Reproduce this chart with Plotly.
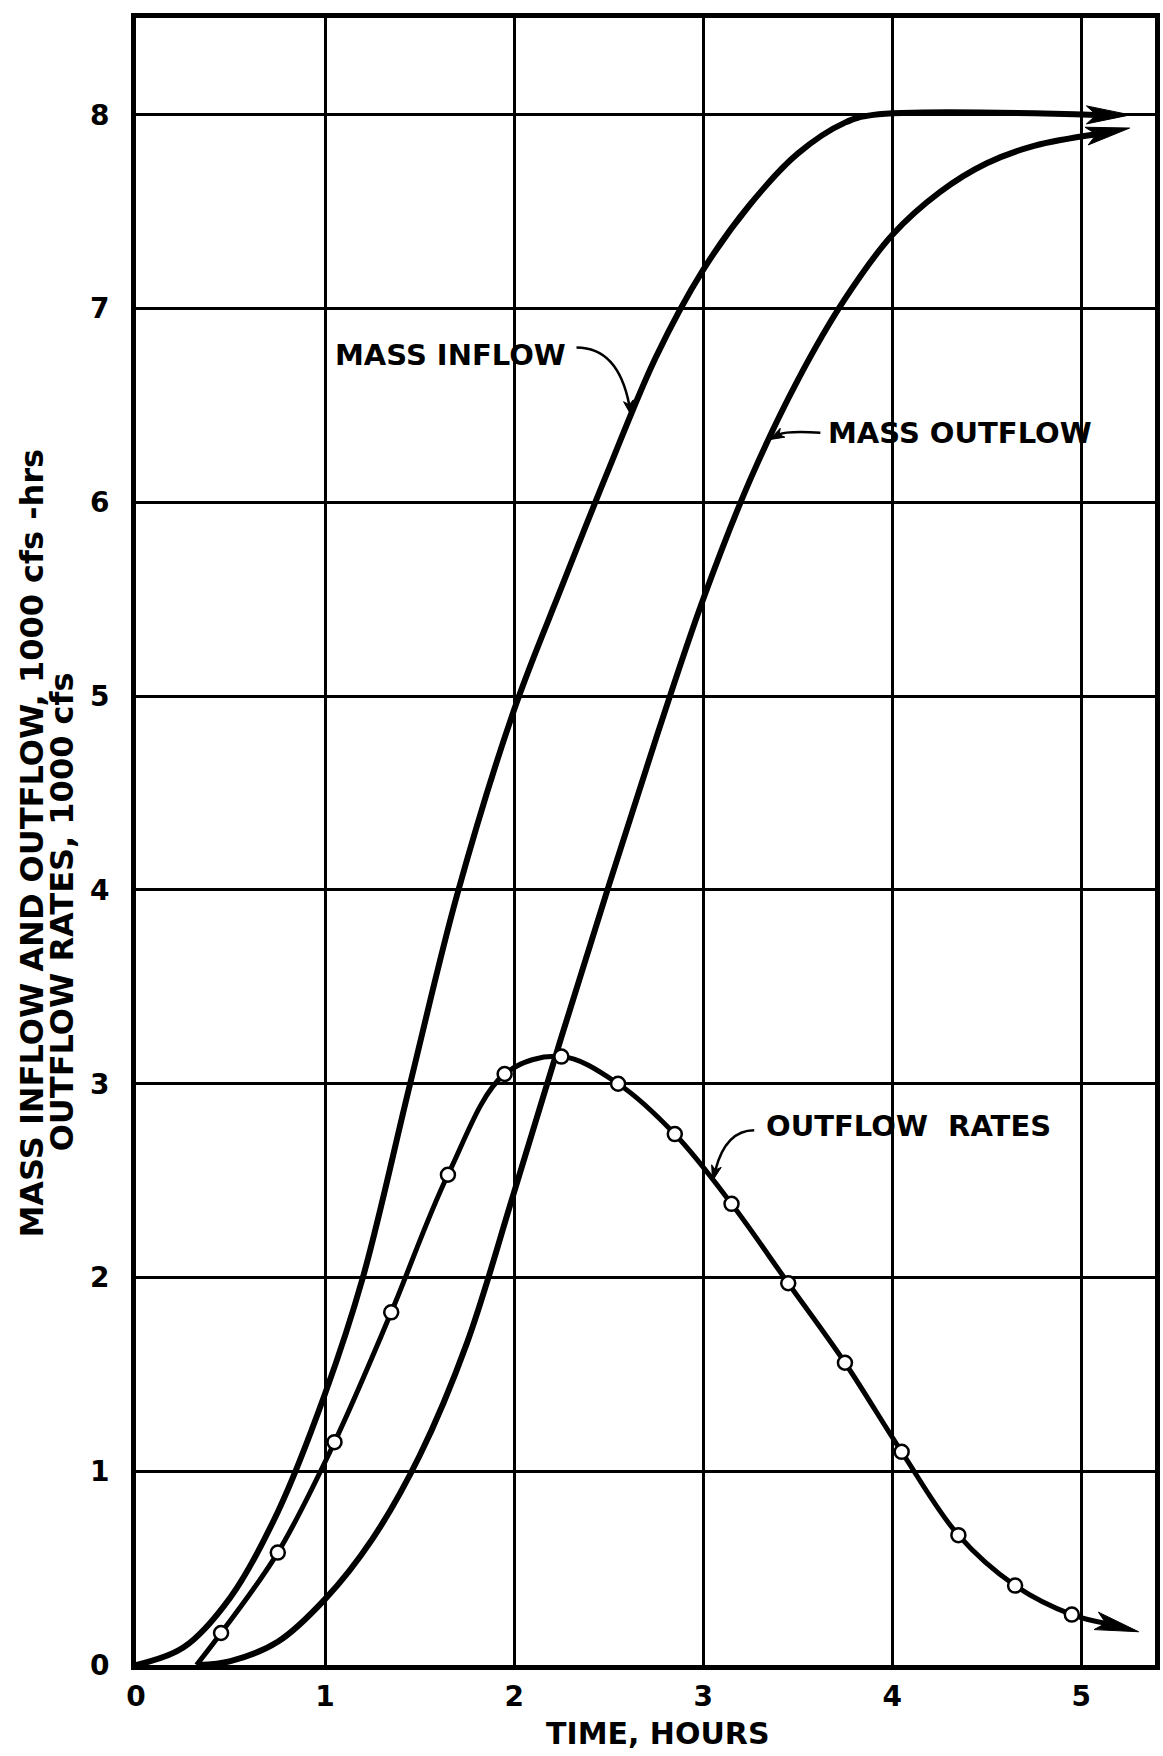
import numpy as np
import plotly.graph_objects as go

# ---- axes -------------------------------------------------------------
X_MAX = 5.39
Y_MAX = 8.5
x_ticks = [0, 1, 2, 3, 4, 5]
y_ticks = [0, 1, 2, 3, 4, 5, 6, 7, 8]

# ---- mass inflow, 1000 cfs-hrs -----------------------------------------
inflow_t = [0.0, 0.25, 0.5, 0.75, 1.0, 1.2, 1.45, 1.7, 2.0, 2.25, 2.5, 2.75, 3.0, 3.25,
            3.5, 3.75, 3.9, 5.08]
inflow_v = [0.0, 0.09, 0.35, 0.79, 1.4, 2.0, 3.0, 3.98, 4.93, 5.56, 6.17, 6.75, 7.2, 7.54,
            7.8, 7.96, 8.0, 8.0]

# ---- mass outflow, 1000 cfs-hrs ----------------------------------------
outflow_t = [0.33, 0.5, 0.75, 1.0, 1.25, 1.5, 1.75, 2.0, 2.25, 2.5, 2.75, 3.0, 3.25, 3.5,
             3.75, 4.0, 4.25, 4.5, 4.75, 5.08]
outflow_v = [0.0, 0.02, 0.12, 0.34, 0.65, 1.08, 1.66, 2.44, 3.24, 4.02, 4.78, 5.5, 6.12,
             6.63, 7.05, 7.38, 7.6, 7.75, 7.84, 7.9]

# ---- routed outflow rates, 1000 cfs ------------------------------------
rate_t = [0.45, 0.75, 1.05, 1.35, 1.65, 1.95, 2.25, 2.55, 2.85, 3.15, 3.45, 3.75, 4.05, 4.35, 4.65, 4.95]
rate_v = [0.165, 0.58, 1.15, 1.82, 2.53, 3.05, 3.14, 3.00, 2.74, 2.38, 1.97, 1.56, 1.1, 0.67, 0.41, 0.26]
rate_start_t, rate_start_v = 0.32, 0.0
rate_end_t, rate_end_v = 5.13, 0.215

# ---- figure geometry ---------------------------------------------------
W, H = 1163, 1756
ML, MR, MT, MB = 136, 3, 18, 91
PW, PH = W - ML - MR, H - MT - MB
XS = PW / X_MAX          # pixels per hour
YS = PH / Y_MAX          # pixels per 1000 units

FONT = "DejaVu Sans"
INK = "black"


def head_polygon(x0, y0, x1, y1, length, half, notch, tip_on_point=False):
    """Barbed arrowhead pointing from (x0, y0) towards (x1, y1).

    By default the notch sits on (x1, y1) so a line ending there disappears
    inside the head; with tip_on_point the point of the head is (x1, y1).
    """
    dx, dy = (x1 - x0) * XS, (y1 - y0) * YS
    n = np.hypot(dx, dy)
    ux, uy = dx / n, dy / n
    px, py = -uy, ux
    if tip_on_point:
        tx, ty = x1 * XS, y1 * YS
    else:
        tx, ty = x1 * XS + (length - notch) * ux, y1 * YS + (length - notch) * uy
    bx, by = tx - length * ux, ty - length * uy
    tip = (tx, ty)
    b1 = (bx + half * px, by + half * py)
    nt = (bx + notch * ux, by + notch * uy)
    b2 = (bx - half * px, by - half * py)
    pts = [tip, b1, nt, b2, tip]
    return [p[0] / XS for p in pts], [p[1] / YS for p in pts]


def head_trace(xs, ys):
    return go.Scatter(x=xs, y=ys, mode="lines", fill="toself", fillcolor=INK,
                      line=dict(color=INK, width=1), hoverinfo="skip", showlegend=False)


fig = go.Figure()

# mass curves
fig.add_trace(go.Scatter(x=inflow_t, y=inflow_v, mode="lines", name="Mass inflow",
                         line=dict(color=INK, width=6, shape="spline", smoothing=1.0)))
fig.add_trace(go.Scatter(x=outflow_t, y=outflow_v, mode="lines", name="Mass outflow",
                         line=dict(color=INK, width=6, shape="spline", smoothing=1.0)))

# outflow rate curve through the computed points
rate_line_t = [rate_start_t] + rate_t + [rate_end_t]
rate_line_v = [rate_start_v] + rate_v + [rate_end_v]
fig.add_trace(go.Scatter(x=rate_line_t, y=rate_line_v, mode="lines", name="Outflow rates",
                         line=dict(color=INK, width=5, shape="spline", smoothing=1.0)))
fig.add_trace(go.Scatter(x=rate_t, y=rate_v, mode="markers", name="Computed rates",
                         marker=dict(symbol="circle", size=14, color="white",
                                     line=dict(color=INK, width=2.5))))

# arrowheads at the ends of the curves
for tt, vv in ((inflow_t, inflow_v), (outflow_t, outflow_v), (rate_line_t, rate_line_v)):
    hx, hy = head_polygon(tt[-2], vv[-2], tt[-1], vv[-1], length=44, half=9, notch=10)
    fig.add_trace(head_trace(hx, hy))

# ---- curve labels with leaders -----------------------------------------
label_font = dict(family=FONT, size=29, color=INK, weight="bold")

labels = [
    # text, text left x, text y, leader start, leader control, target curve, target t
    ("MASS INFLOW", 1.04, 6.76, (2.33, 6.80), (2.55, 6.80), (inflow_t, inflow_v), 2.62),
    ("MASS OUTFLOW", 3.65, 6.36, (3.62, 6.36), (3.44, 6.37), (outflow_t, outflow_v), 3.35),
    ("OUTFLOW\u00a0\u00a0RATES", 3.32, 2.78, (3.27, 2.76), (3.12, 2.76), (rate_line_t, rate_line_v), 3.05),
]

for text, tx, ty, start, ctrl, (ct, cv), target_t in labels:
    fig.add_annotation(x=tx, y=ty, text=text, showarrow=False, xanchor="left",
                       yanchor="middle", font=label_font)
    target_v = float(np.interp(target_t, ct, cv))
    # leader drawn as a quadratic curve, ending inside a small arrowhead
    hx, hy = head_polygon(ctrl[0], ctrl[1], target_t, target_v, length=15, half=5, notch=4,
                          tip_on_point=True)
    end_x, end_y = hx[2], hy[2]
    fig.add_shape(type="path", xref="x", yref="y",
                  path=f"M {start[0]},{start[1]} Q {ctrl[0]},{ctrl[1]} {end_x},{end_y}",
                  line=dict(color=INK, width=2.5))
    fig.add_trace(head_trace(hx, hy))

# ---- axis titles -------------------------------------------------------
title_font = dict(family=FONT, size=32, color=INK, weight="bold")
fig.add_annotation(xref="paper", yref="paper", x=(31 - ML) / PW, y=(PH + MT - 843) / PH,
                   text="MASS INFLOW AND OUTFLOW, 1000 cfs -hrs", textangle=-90,
                   showarrow=False, xanchor="center", yanchor="middle", font=title_font)
fig.add_annotation(xref="paper", yref="paper", x=(62 - ML) / PW, y=(PH + MT - 912) / PH,
                   text="OUTFLOW RATES, 1000 cfs", textangle=-90,
                   showarrow=False, xanchor="center", yanchor="middle", font=title_font)
fig.add_annotation(xref="paper", yref="paper", x=(661 - ML) / PW, y=(PH + MT - 1733) / PH,
                   text="TIME, HOURS", showarrow=False, xanchor="center", yanchor="middle",
                   font=dict(family=FONT, size=30, color=INK, weight="bold"))

tick_font = dict(family=FONT, size=28, color=INK, weight="bold")
fig.update_xaxes(range=[0, X_MAX], tickvals=x_ticks, ticktext=[str(v) for v in x_ticks],
                 showgrid=True, gridcolor=INK, gridwidth=2.5, zeroline=False,
                 showline=True, linecolor=INK, linewidth=5, mirror=True,
                 ticks="", ticklabelstandoff=2, tickfont=tick_font)
fig.update_yaxes(range=[0, Y_MAX], tickvals=y_ticks, ticktext=[str(v) for v in y_ticks],
                 showgrid=True, gridcolor=INK, gridwidth=2.5, zeroline=False,
                 showline=True, linecolor=INK, linewidth=5, mirror=True,
                 ticks="", ticklabelstandoff=16, tickfont=tick_font)

fig.update_layout(width=W, height=H, margin=dict(l=ML, r=MR, t=MT, b=MB),
                  paper_bgcolor="white", plot_bgcolor="white", showlegend=False)

fig.write_html("out.html")
